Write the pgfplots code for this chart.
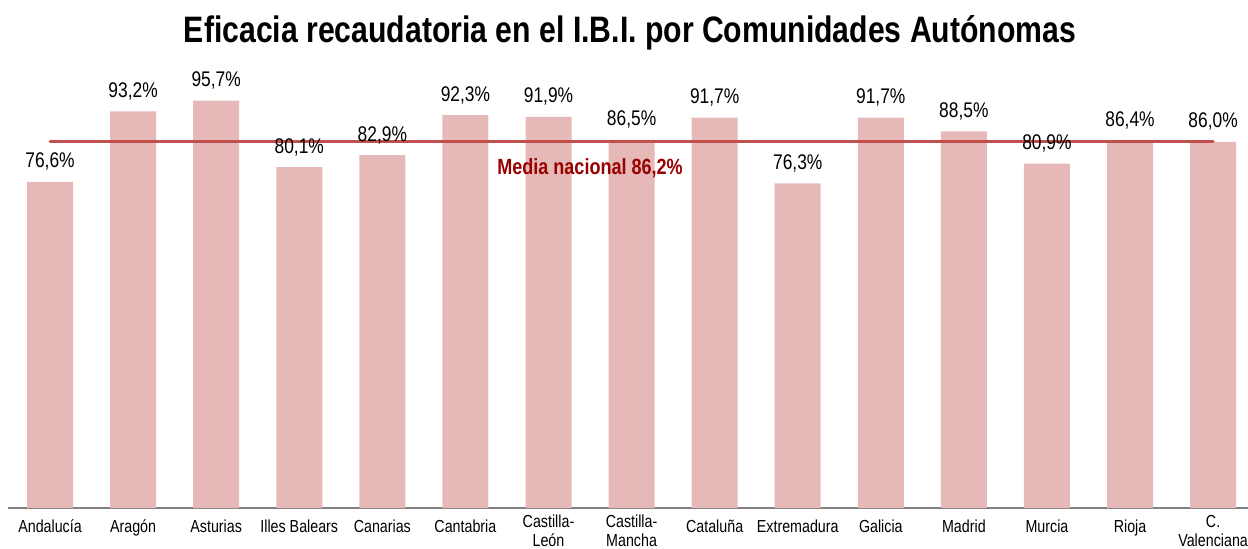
\documentclass[border=0pt]{standalone}
\usepackage{pgfplots}
\pgfplotsset{compat=1.18}
\usepackage{fontspec}
\setmainfont{Liberation Sans}[FakeStretch=0.82]
\definecolor{barc}{HTML}{E6B9B8}
\definecolor{meanc}{HTML}{C0504D}
\definecolor{meantxt}{HTML}{990000}
\definecolor{axc}{HTML}{808080}
\begin{document}
\begin{tikzpicture}
\useasboundingbox (0,0) rectangle (624pt,274pt);
\node[font=\bfseries\fontsize{18.4pt}{21pt}\selectfont] at (315pt,257.5pt) {Eficacia recaudatoria en el I.B.I. por Comunidades Autónomas};
\begin{axis}[
  at={(4.25pt,20pt)}, anchor=south west,
  scale only axis, width=619.75pt, height=254pt,
  xmin=-0.5, xmax=14.42, ymin=0, ymax=119.36,
  axis x line=bottom, axis y line=none,
  x axis line style={-, draw=axc, line width=0.6pt},
  xtick={0,...,14},
  xticklabels={Andalucía,Aragón,Asturias,Illes Balears,Canarias,Cantabria,Castilla-\\León,Castilla-\\Mancha,Cataluña,Extremadura,Galicia,Madrid,Murcia,Rioja,C.\\Valenciana},
  xtick style={draw=none},
  xticklabel style={font=\fontsize{8.7pt}{9.4pt}\selectfont, align=center, anchor=north, yshift=2pt, execute at begin node={\rule{0pt}{8.5pt}}},
  ytick=\empty,
  clip=false,
  /pgf/number format/assume math mode=true,
]
\addplot[ybar, bar width=23pt, fill=barc, draw=none,
  nodes near coords={\pgfmathprintnumber[fixed,fixed zerofill,precision=1,use comma]{\pgfplotspointmeta}\%},
  every node near coord/.append style={font=\fontsize{10.6pt}{12pt}\selectfont, anchor=base, yshift=7pt, inner sep=0pt},
  point meta=y]
  coordinates {(0,76.6) (1,93.2) (2,95.7) (3,80.1) (4,82.9) (5,92.3) (6,91.9) (7,86.5) (8,91.7) (9,76.3) (10,91.7) (11,88.5) (12,80.9) (13,86.4) (14,86.0)};
\addplot[meanc, line width=1.5pt, line cap=round] coordinates {(0,86.2) (14,86.2)};
\node[font=\bfseries\fontsize{11pt}{12pt}\selectfont, text=meantxt] at (axis cs:6.5,79.9) {Media nacional 86,2\%};
\end{axis}
\end{tikzpicture}
\end{document}
